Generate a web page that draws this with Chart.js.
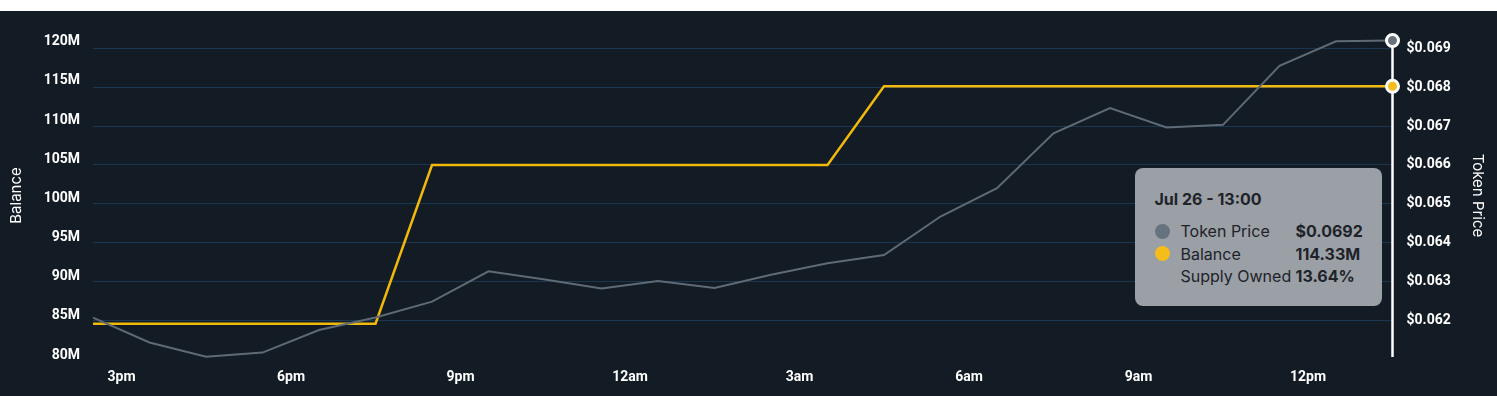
<!DOCTYPE html>
<html>
<head>
<meta charset="utf-8">
<script src="https://cdn.jsdelivr.net/npm/chart.js@4.4.1/dist/chart.umd.min.js"></script>
<style>
  body { margin: 0; background: #fff; }
  .wrap { position: relative; margin-top: 11px; width: 1497px; height: 385px; background: #131b25; }
  #tip {
    position: absolute; width: 247px; height: 138px; box-sizing: border-box;
    padding: 20px 0 0 20px; background: #9b9fa6; border-radius: 8px;
    font-family: Inter, sans-serif; color: #1e2329; pointer-events: none; opacity: 0;
  }
  .t-title { font-size: 16px; font-weight: 700; line-height: 22px; margin-bottom: 10px; }
  .t-row { display: flex; align-items: center; height: 22.5px; font-size: 16px; }
  .dot { width: 15px; height: 15px; border-radius: 50%; margin-right: 11px; flex: none; }
  .lbl { width: 115px; }
</style>
</head>
<body>
<div class="wrap">
  <canvas id="holdingsChart"></canvas>
  <div id="tip"></div>
</div>
<script>
// hourly points, Jul 25 14:00 -> Jul 26 13:00
const timeLabels = [
  "Jul 25 - 14:00", "Jul 25 - 15:00", "Jul 25 - 16:00", "Jul 25 - 17:00", "Jul 25 - 18:00", "Jul 25 - 19:00",
  "Jul 25 - 20:00", "Jul 25 - 21:00", "Jul 25 - 22:00", "Jul 25 - 23:00", "Jul 26 - 00:00", "Jul 26 - 01:00",
  "Jul 26 - 02:00", "Jul 26 - 03:00", "Jul 26 - 04:00", "Jul 26 - 05:00", "Jul 26 - 06:00", "Jul 26 - 07:00",
  "Jul 26 - 08:00", "Jul 26 - 09:00", "Jul 26 - 10:00", "Jul 26 - 11:00", "Jul 26 - 12:00", "Jul 26 - 13:00"
];
const tokenPrice = [
  0.06207, 0.06143, 0.06106, 0.06117, 0.06175, 0.06207, 0.06248, 0.06326, 0.06305, 0.06282, 0.06301, 0.06283,
  0.06317, 0.06347, 0.06368, 0.06467, 0.06540, 0.06681, 0.06746, 0.06696, 0.06703, 0.06855, 0.06918, 0.0692
];
// balance in millions of tokens
const balanceM = [
  84.0, 84.0, 84.0, 84.0, 84.0, 84.0, 104.26, 104.26, 104.26, 104.26, 104.26, 104.26,
  104.26, 104.26, 114.33, 114.33, 114.33, 114.33, 114.33, 114.33, 114.33, 114.33, 114.33, 114.33
];
const balanceTicks = [80, 85, 90, 95, 100, 105, 110, 115, 120];
const priceTicks = [0.062, 0.063, 0.064, 0.065, 0.066, 0.067, 0.068, 0.069];
const totalSupplyM = 838.2;

const priceColor = "#5e6a74";
const balanceColor = "#f0b90b";
const tickFont = { family: "Roboto", size: 14, weight: "bold" };
const titleFont = { family: "Inter", size: 15 };

const crosshair = {
  id: "crosshair",
  beforeDatasetsDraw(chart) {
    const act = chart.getActiveElements();
    if (!act.length) return;
    const x = act[0].element.x;
    const top = Math.min(...act.map((a) => a.element.y));
    const ctx = chart.ctx;
    ctx.save();
    ctx.strokeStyle = "#ffffff";
    ctx.lineWidth = 2.5;
    ctx.beginPath();
    ctx.moveTo(x, top);
    ctx.lineTo(x, chart.chartArea.bottom);
    ctx.stroke();
    ctx.restore();
  },
};

function externalTooltip(context) {
  const { chart, tooltip } = context;
  const el = document.getElementById("tip");
  if (tooltip.opacity === 0 || !tooltip.dataPoints) {
    el.style.opacity = 0;
    return;
  }
  const i = tooltip.dataPoints[0].dataIndex;
  const supply = (balanceM[i] / totalSupplyM * 100).toFixed(2);
  el.innerHTML =
    '<div class="t-title">' + timeLabels[i] + "</div>" +
    '<div class="t-row"><span class="dot" style="background:#66727d"></span><span class="lbl">Token Price</span><b>$' + tokenPrice[i].toFixed(4) + "</b></div>" +
    '<div class="t-row"><span class="dot" style="background:#f5bd19"></span><span class="lbl">Balance</span><b>' + balanceM[i].toFixed(2) + "M</b></div>" +
    '<div class="t-row"><span class="dot"></span><span class="lbl">Supply Owned</span><b>' + supply + "%</b></div>";
  el.style.opacity = 1;
  el.style.left = tooltip.caretX - 11 - 247 + "px";
  el.style.top = chart.chartArea.bottom - 189 + "px";
}

const ctx = document.getElementById("holdingsChart").getContext("2d");
const chart = new Chart(ctx, {
  type: "line",
  data: {
    labels: timeLabels,
    datasets: [
      {
        label: "Token Price",
        data: tokenPrice,
        yAxisID: "y1",
        borderColor: priceColor,
        borderWidth: 2,
        pointRadius: 0,
        pointHoverRadius: 6,
        pointHoverBorderWidth: 3,
        pointHoverBorderColor: "#ffffff",
        pointHoverBackgroundColor: "#66727d",
        tension: 0,
        clip: false,
      },
      {
        label: "Balance",
        data: balanceM,
        yAxisID: "y",
        borderColor: balanceColor,
        borderWidth: 2.5,
        pointRadius: 0,
        pointHoverRadius: 6,
        pointHoverBorderWidth: 3,
        pointHoverBorderColor: "#ffffff",
        pointHoverBackgroundColor: "#f5bd19",
        tension: 0,
        clip: false,
      },
    ],
  },
  options: {
    responsive: true,
    maintainAspectRatio: false,
    animation: false,
    events: [],
    layout: { padding: { top: 23, left: 0, right: 0, bottom: 0 } },
    interaction: { mode: "index", intersect: false },
    plugins: {
      legend: { display: false },
      tooltip: { enabled: false, external: externalTooltip },
    },
    scales: {
      x: {
        type: "category",
        offset: false,
        grid: { display: false, drawTicks: false },
        border: { display: false },
        ticks: {
          autoSkip: false,
          maxRotation: 0,
          color: "#ffffff",
          font: tickFont,
          padding: 12,
          labelOffset: -28,
          callback: function (v, i) {
            const h = parseInt(timeLabels[i].slice(-5, -3), 10);
            if (h % 3) return null;
            return (h % 12 || 12) + (h < 12 ? "am" : "pm");
          },
        },
        afterFit(s) { s.height = 39; },
      },
      y: {
        position: "left",
        min: 79.745,
        max: 121.0,
        grid: { display: false, drawTicks: false },
        border: { display: false },
        afterBuildTicks(s) { s.ticks = balanceTicks.map((v) => ({ value: v })); },
        ticks: {
          color: "#ffffff",
          font: tickFont,
          padding: 13,
          callback: (v) => v + "M",
        },
        title: { display: true, text: "Balance", color: "#ffffff", font: titleFont, padding: { top: 7.7, bottom: 0 } },
        afterFit(s) { s.width = 93; },
      },
      y1: {
        position: "right",
        min: 0.0610556,
        max: 0.0693675,
        grid: { color: "#1a3650", lineWidth: 1, drawTicks: false },
        border: { display: false },
        afterBuildTicks(s) { s.ticks = priceTicks.map((v) => ({ value: v })); },
        ticks: {
          color: "#ffffff",
          font: tickFont,
          padding: 14,
          callback: (v) => "$" + v.toFixed(3),
        },
        title: { display: true, text: "Token Price", color: "#ffffff", font: titleFont, padding: { top: 10, bottom: 0 } },
        afterFit(s) { s.width = 104.5; },
      },
    },
  },
  plugins: [crosshair],
});

const last = timeLabels.length - 1;
const active = [
  { datasetIndex: 0, index: last },
  { datasetIndex: 1, index: last },
];
chart.setActiveElements(active);
chart.tooltip.setActiveElements(active, { x: 0, y: 0 });
chart.update();
</script>
</body>
</html>
